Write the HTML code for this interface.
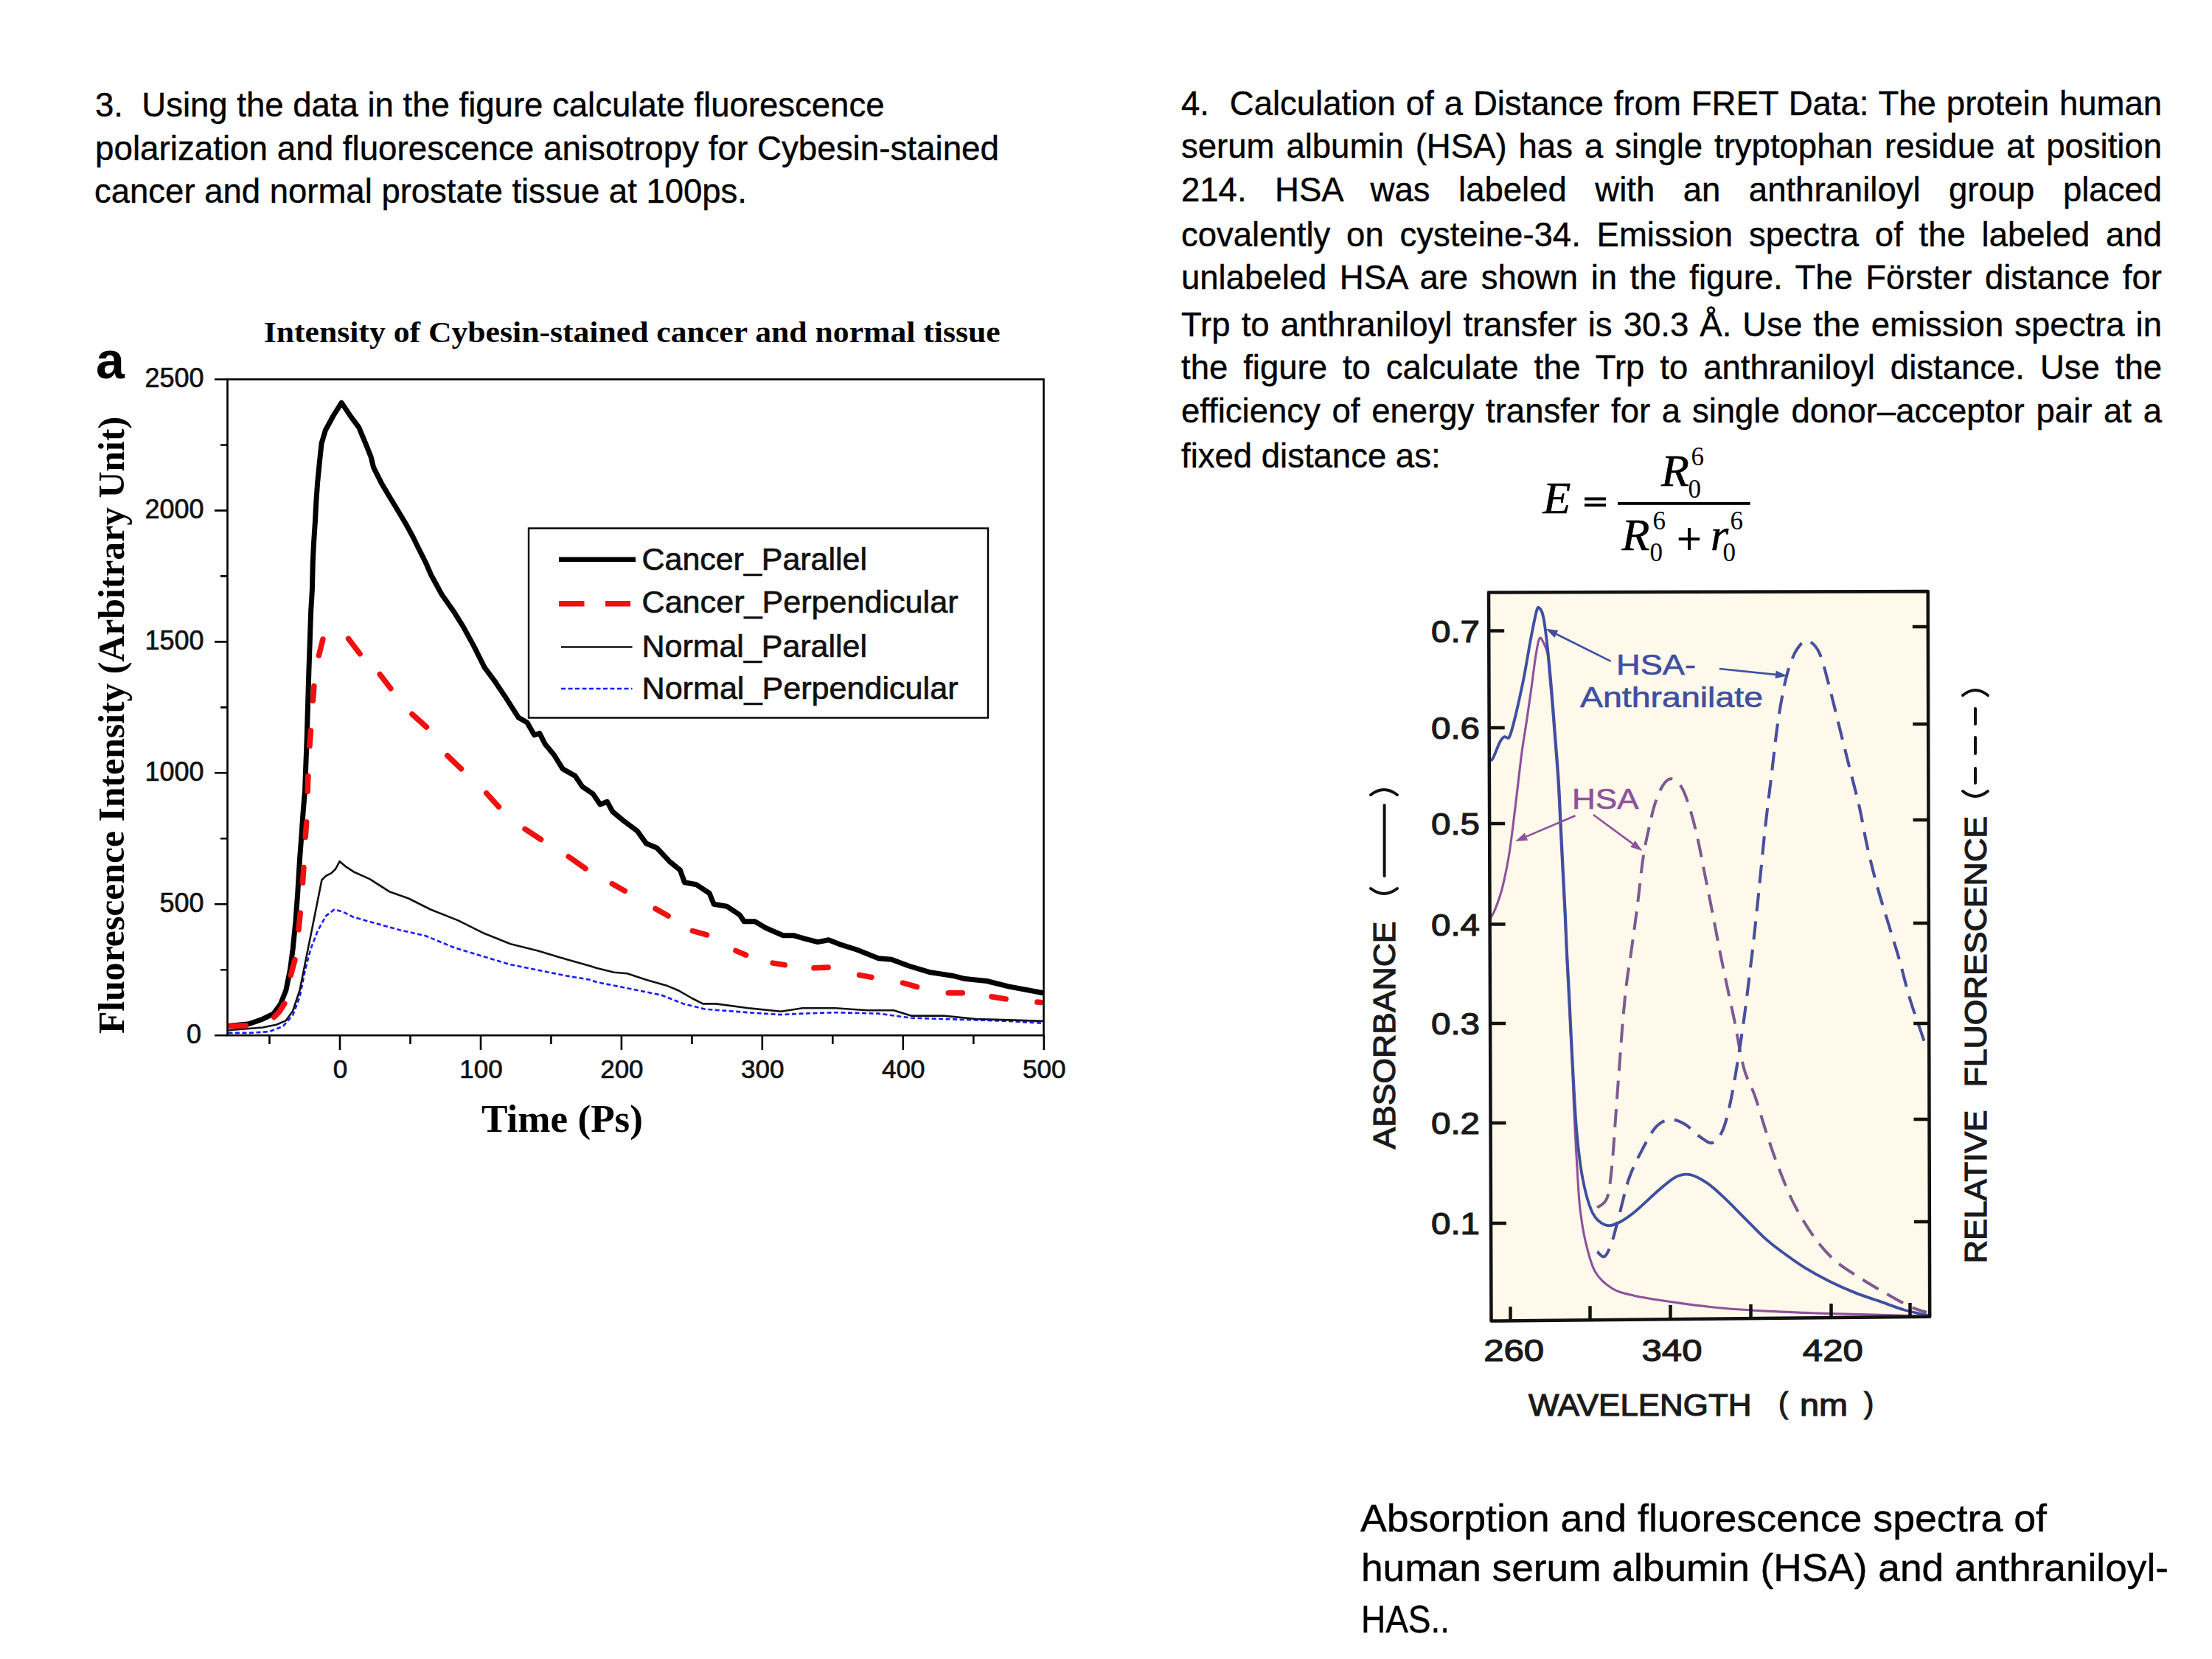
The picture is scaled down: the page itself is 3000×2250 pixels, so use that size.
<!DOCTYPE html>
<html><head><meta charset="utf-8"><title>FRET questions</title>
<style>
html,body{margin:0;padding:0;background:#fff;}
body{width:3000px;height:2250px;overflow:hidden;font-family:"Liberation Sans", sans-serif;}
svg{display:block;}
text{white-space:pre;}
</style></head><body>
<svg width="3000" height="2250" viewBox="0 0 3000 2250">
<rect x="0" y="0" width="3000" height="2250" fill="#fff"/>

<g font-family="'Liberation Sans', sans-serif" font-size="45.5" fill="#000" stroke="#000" stroke-width="0.4">
<text x="129" y="158.0" textLength="1070.5" lengthAdjust="spacingAndGlyphs" xml:space="preserve">3.  Using the data in the figure calculate fluorescence</text>
<text x="129" y="217.0" textLength="1226.0" lengthAdjust="spacingAndGlyphs" xml:space="preserve">polarization and fluorescence anisotropy for Cybesin-stained</text>
<text x="128" y="274.5" textLength="885.0" lengthAdjust="spacingAndGlyphs" xml:space="preserve">cancer and normal prostate tissue at 100ps.</text>
</g>
<g font-family="'Liberation Sans', sans-serif" font-size="45.5" fill="#000" stroke="#000" stroke-width="0.4">
<text x="1602" y="155.8" word-spacing="1.28" xml:space="preserve">4.  Calculation of a Distance from FRET Data: The protein human</text>
<text x="1602" y="213.5" word-spacing="3.34" xml:space="preserve">serum albumin (HSA) has a single tryptophan residue at position</text>
<text x="1602" y="273.0" word-spacing="25.87" xml:space="preserve">214. HSA was labeled with an anthraniloyl group placed</text>
<text x="1602" y="333.8" word-spacing="9.12" xml:space="preserve">covalently on cysteine-34. Emission spectra of the labeled and</text>
<text x="1602" y="392.2" word-spacing="4.85" xml:space="preserve">unlabeled HSA are shown in the figure. The Förster distance for</text>
<text x="1602" y="455.7" word-spacing="2.43" xml:space="preserve">Trp to anthraniloyl transfer is 30.3 Å. Use the emission spectra in</text>
<text x="1602" y="513.7" word-spacing="8.31" xml:space="preserve">the figure to calculate the Trp to anthraniloyl distance. Use the</text>
<text x="1602" y="572.8" word-spacing="3.08" xml:space="preserve">efficiency of energy transfer for a single donor–acceptor pair at a</text>
<text x="1602" y="634.3" xml:space="preserve">fixed distance as:</text>
</g>
<g fill="#000" stroke="#000" stroke-width="0.6">
<text x="2092.5" y="695.7" font-family="'Liberation Serif', serif" font-style="italic" font-size="62">E</text>
<rect x="2149" y="674.5" width="29" height="4" stroke="none"/><rect x="2149" y="683" width="29" height="4" stroke="none"/>
<rect x="2194" y="681" width="179.6" height="3.8" stroke="none"/>
<text x="2253" y="658.9" font-family="'Liberation Serif', serif" font-style="italic" font-size="62">R</text>
<text x="2293.5" y="630.7" font-family="'Liberation Serif', serif" font-size="35" stroke="none">6</text>
<text x="2289.5" y="674.5" font-family="'Liberation Serif', serif" font-size="35" stroke="none">0</text>
<text x="2199.5" y="745.7" font-family="'Liberation Serif', serif" font-style="italic" font-size="62">R</text>
<text x="2241.5" y="717.6" font-family="'Liberation Serif', serif" font-size="35" stroke="none">6</text>
<text x="2237.5" y="761.4" font-family="'Liberation Serif', serif" font-size="35" stroke="none">0</text>
<rect x="2276.7" y="729" width="28.5" height="4" stroke="none"/><rect x="2289" y="716" width="4" height="30" stroke="none"/>
<text x="2320" y="746" font-family="'Liberation Serif', serif" font-style="italic" font-size="62">r</text>
<text x="2346.5" y="717.6" font-family="'Liberation Serif', serif" font-size="35" stroke="none">6</text>
<text x="2336.5" y="761.4" font-family="'Liberation Serif', serif" font-size="35" stroke="none">0</text>
</g>
<g id="leftchart">
<text x="357.7" y="464.2" font-family="'Liberation Serif', serif" font-weight="bold" font-size="41" textLength="999" lengthAdjust="spacingAndGlyphs">Intensity of Cybesin-stained cancer and normal tissue</text>
<text x="130" y="513" font-family="'Liberation Sans', sans-serif" font-weight="bold" font-size="70">a</text>
<text transform="translate(167.5,1402) rotate(-90)" font-family="'Liberation Serif', serif" font-weight="bold" font-size="51" textLength="837" lengthAdjust="spacingAndGlyphs">Fluorescence Intensity (Arbitrary Unit)</text>
<text x="653" y="1534.6" font-family="'Liberation Serif', serif" font-weight="bold" font-size="53.5" textLength="219" lengthAdjust="spacingAndGlyphs">Time (Ps)</text>
<path d="M291,1404.2H308.5 M299,1315.2H308.5 M291,1226.3H308.5 M299,1137.3H308.5 M291,1048.3H308.5 M299,959.4H308.5 M291,870.4H308.5 M299,781.4H308.5 M291,692.4H308.5 M299,603.5H308.5 M291,514.5H308.5 M365.5,1404.2V1416 M461.0,1404.2V1424 M556.5,1404.2V1416 M652.0,1404.2V1424 M747.4,1404.2V1416 M842.9,1404.2V1424 M938.4,1404.2V1416 M1033.8,1404.2V1424 M1129.3,1404.2V1416 M1224.8,1404.2V1424 M1320.3,1404.2V1416 M1415.8,1404.2V1424" stroke="#000" stroke-width="2.6" fill="none"/>
<g font-family="'Liberation Sans', sans-serif" font-size="36" fill="#111" stroke="#111" stroke-width="0.7" text-anchor="end">
<text x="273" y="1414.7">0</text>
<text x="276.5" y="1236.8">500</text>
<text x="276.5" y="1058.8">1000</text>
<text x="276.5" y="880.9">1500</text>
<text x="276.5" y="702.9">2000</text>
<text x="276.5" y="525.0">2500</text>
</g>
<g font-family="'Liberation Sans', sans-serif" font-size="35" fill="#111" stroke="#111" stroke-width="0.7" text-anchor="middle">
<text x="461.5" y="1461.5">0</text>
<text x="652.5" y="1461.5">100</text>
<text x="843.4" y="1461.5">200</text>
<text x="1034.3" y="1461.5">300</text>
<text x="1225.3" y="1461.5">400</text>
<text x="1416.2" y="1461.5">500</text>
</g>
<defs><clipPath id="lc"><rect x="308.5" y="514.5" width="1107" height="890"/></clipPath></defs>
<g clip-path="url(#lc)" fill="none" stroke-linejoin="round">
<polyline points="309.5,1400.9 337.4,1400.9 365.4,1399.1 384.1,1391.6 397.2,1376.6 406.5,1352.3 414.0,1315.0 421.5,1286.9 430.8,1262.6 442.1,1242.1 453.3,1233.6 464.5,1236.4 479.4,1243.9 509.3,1252.2 542.9,1261.5 576.5,1269.0 617.6,1285.8 655.0,1297.0 692.4,1308.2 729.7,1315.7 767.1,1323.2 800.0,1328.8 809.4,1332.0 853.5,1340.8 897.5,1349.7 926.9,1361.4 956.3,1368.7 1015.1,1373.2 1059.2,1376.1 1088.6,1374.6 1132.6,1373.2 1191.4,1374.6 1235.5,1380.5 1279.6,1382.0 1323.6,1383.4 1367.7,1384.9 1415.0,1387.8" stroke="#1a1aff" stroke-width="2.6" stroke-dasharray="6 3.5"/>
<polyline points="309.5,1397.2 356.1,1393.5 374.8,1389.7 387.9,1384.1 397.2,1371.0 406.5,1343.0 414.0,1305.6 421.5,1268.2 429.0,1230.8 436.4,1193.5 442.1,1187.9 449.5,1184.1 455.1,1178.5 460.7,1168.2 468.2,1174.8 479.4,1182.2 501.8,1192.4 528.0,1209.2 554.1,1218.5 584.0,1233.5 621.4,1248.4 655.0,1265.2 692.4,1280.2 729.7,1289.5 767.1,1300.7 800.0,1310.0 809.4,1312.9 832.9,1318.8 850.5,1320.3 877.0,1329.1 903.4,1336.4 921.1,1343.8 938.7,1354.0 953.4,1361.4 971.0,1361.4 1015.1,1367.3 1059.2,1371.7 1088.6,1367.3 1132.6,1367.3 1176.7,1370.2 1212.0,1370.2 1235.5,1377.6 1279.6,1377.6 1323.6,1382.0 1367.7,1383.4 1415.0,1384.9" stroke="#111" stroke-width="2.6"/>
<polyline points="309.5,1391.6 337.4,1388.8 356.1,1382.2 371.0,1374.8 380.4,1361.7 387.9,1343.0 393.5,1315.0 397.2,1286.9 400.9,1249.5 403.7,1212.1 406.5,1165.4 409.3,1128.0 411.2,1100.0 413.5,1073.0 416.2,1001.0 418.9,910.0 421.6,830.0 423.4,800.0 424.3,762.3 425.6,735.2 427.4,708.0 428.8,680.9 430.7,653.8 433.4,626.6 436.1,601.3 441.5,583.2 452.0,564.0 463.2,546.1 475.9,565.1 486.7,579.6 495.8,601.3 503.0,619.4 506.6,633.9 517.5,655.6 528.3,673.7 539.2,691.8 550.0,709.8 560.0,728.0 565.2,738.7 577.3,762.8 584.8,780.0 599.3,806.5 616.2,830.6 628.2,849.9 642.7,876.4 657.2,905.4 671.6,924.7 686.1,946.4 703.0,972.9 715.0,980.1 724.7,997.0 731.9,994.6 739.1,1009.0 751.2,1023.5 763.2,1042.8 780.1,1052.4 789.8,1066.9 804.2,1076.6 813.9,1091.0 823.5,1087.4 830.8,1100.7 845.2,1112.7 864.5,1127.2 876.6,1144.1 891.0,1150.1 907.9,1168.2 922.4,1180.0 928.4,1196.8 944.6,1199.8 962.2,1211.5 968.1,1226.2 985.7,1229.2 1003.3,1240.9 1009.2,1249.7 1023.9,1249.7 1038.6,1258.5 1062.1,1268.8 1076.8,1268.8 1091.5,1273.2 1109.1,1277.6 1123.8,1274.7 1138.5,1280.6 1162.0,1288.0 1191.4,1299.7 1209.0,1301.2 1232.5,1310.0 1261.9,1318.8 1291.3,1323.2 1309.0,1327.6 1338.3,1330.5 1367.7,1337.9 1415.0,1346.7" stroke="#000" stroke-width="7"/>
<path d="M313.2,1391.5 L333.3,1391.1 M371.8,1379.5 L379.0,1372.0 L385.9,1361.1 M394.4,1322.6 L400.0,1301.7 M405.0,1260.8 L407.2,1238.3 M410.5,1197.2 L411.9,1176.6 M414.2,1135.6 L415.7,1114.9 M417.2,1073.2 L417.9,1052.5 M420.0,1011.7 L421.4,991.0 M424.5,950.2 L425.9,930.4 M432.5,888.8 L437.9,867.0 M472.6,866.3 L488.1,886.7 M515.2,914.4 L529.8,933.7 M559.0,968.6 L578.5,986.1 M606.8,1024.8 L625.5,1042.7 M659.7,1075.7 L676.4,1094.3 M712.1,1124.4 L733.6,1138.5 M771.1,1161.8 L794.0,1177.9 M830.2,1198.6 L847.3,1208.3 M889.0,1232.4 L906.1,1242.1 M939.3,1262.5 L958.6,1267.8 M997.9,1289.4 L1011.7,1295.2 M1048.2,1306.1 L1064.3,1308.6 M1104.0,1312.8 L1123.1,1312.1 M1165.6,1322.4 L1181.9,1325.4 M1224.4,1333.0 L1243.6,1338.4 M1286.2,1346.7 L1305.3,1346.7 M1344.9,1351.7 L1364.1,1354.9 M1406.8,1359.1 L1411.3,1359.6" stroke="#f01010" stroke-width="7.5" stroke-linecap="round"/>
</g>
<rect x="308.5" y="514.5" width="1107" height="889.7" fill="none" stroke="#000" stroke-width="2.6"/>
<rect x="717" y="716.5" width="623" height="257" fill="#fff" stroke="#000" stroke-width="2.4"/>
<path d="M758,758.8H862" stroke="#000" stroke-width="6.5"/>
<path d="M758,818.8H792.5M821,818.8H855" stroke="#f01010" stroke-width="7.5"/>
<path d="M761,877.5H857.5" stroke="#111" stroke-width="2.4"/>
<path d="M761,934H857.5" stroke="#1a1aff" stroke-width="2.6" stroke-dasharray="6 3.5"/>
<g font-family="'Liberation Sans', sans-serif" font-size="43" fill="#111" stroke="#111" stroke-width="0.7">
<text x="870.5" y="773.1" textLength="305.5" lengthAdjust="spacingAndGlyphs">Cancer_Parallel</text>
<text x="870.5" y="831.3" textLength="429" lengthAdjust="spacingAndGlyphs">Cancer_Perpendicular</text>
<text x="870.5" y="891" textLength="305.5" lengthAdjust="spacingAndGlyphs">Normal_Parallel</text>
<text x="870.5" y="947.6" textLength="429" lengthAdjust="spacingAndGlyphs">Normal_Perpendicular</text>
</g>
</g>
<g id="rightchart">
<polygon points="2019,803.5 2614.7,802 2617.2,1785.7 2022.5,1791.5" fill="#fff9eb"/>
<defs><clipPath id="rc"><polygon points="2019,803.5 2614.7,802 2617.2,1785.7 2022.5,1791.5"/></clipPath></defs>
<g clip-path="url(#rc)" fill="none" stroke-linejoin="round" stroke-linecap="round">
<path d="M2166.3,1637.8C2168.5,1635.6 2176.3,1634.0 2179.6,1624.6C2182.9,1615.2 2184.3,1599.7 2186.2,1581.5C2188.1,1563.3 2189.5,1537.3 2191.2,1515.2C2192.8,1493.1 2194.4,1471.0 2196.1,1448.9C2197.8,1426.8 2199.4,1401.9 2201.1,1382.6C2202.8,1363.3 2204.2,1348.3 2206.1,1332.9C2208.0,1317.5 2210.0,1307.2 2212.4,1290.0C2214.8,1272.8 2217.8,1251.1 2220.5,1229.8C2223.2,1208.5 2226.0,1180.1 2228.7,1162.0C2231.4,1143.9 2234.1,1133.5 2236.8,1121.3C2239.5,1109.1 2241.8,1098.2 2245.0,1088.7C2248.2,1079.2 2252.2,1069.7 2255.8,1064.3C2259.4,1058.9 2262.6,1055.8 2266.7,1056.2C2270.8,1056.7 2276.1,1060.7 2280.2,1067.0C2284.3,1073.3 2287.5,1082.9 2291.1,1094.2C2294.7,1105.5 2298.3,1119.1 2301.9,1134.9C2305.5,1150.7 2309.2,1171.0 2312.8,1189.1C2316.4,1207.2 2320.0,1224.9 2323.6,1243.4C2327.2,1261.9 2330.9,1282.2 2334.5,1300.0C2338.1,1317.8 2342.1,1336.2 2345.0,1350.0C2347.9,1363.8 2348.6,1366.1 2352.0,1382.6C2355.4,1399.1 2360.5,1431.6 2365.2,1448.9C2369.9,1466.2 2374.7,1471.0 2380.0,1486.2C2385.3,1501.4 2391.3,1523.3 2396.9,1540.2C2402.5,1557.1 2407.5,1571.8 2413.7,1587.5C2419.9,1603.2 2426.1,1619.5 2434.0,1634.7C2441.9,1649.9 2452.0,1666.2 2461.0,1678.6C2470.0,1691.0 2477.9,1700.0 2488.0,1709.0C2498.1,1718.0 2510.4,1725.3 2521.7,1732.6C2532.9,1739.9 2544.2,1746.4 2555.5,1752.9C2566.8,1759.4 2579.6,1766.9 2589.2,1771.4C2598.8,1775.9 2609.0,1778.6 2613.0,1780.0" stroke="#7e5a92" stroke-width="4" stroke-dasharray="25 13.5" stroke-linecap="butt"/>
<path d="M2166.3,1697.5C2168.0,1698.6 2172.9,1706.3 2176.2,1704.1C2179.5,1701.9 2182.9,1693.7 2186.2,1684.3C2189.5,1674.9 2192.2,1662.2 2196.1,1647.8C2200.0,1633.4 2204.4,1612.4 2209.4,1598.0C2214.4,1583.6 2219.9,1573.2 2226.0,1561.6C2232.1,1550.0 2239.3,1535.6 2245.9,1528.4C2252.5,1521.2 2259.1,1519.0 2265.7,1518.5C2272.3,1518.0 2279.0,1521.2 2285.6,1525.1C2292.2,1529.0 2299.4,1537.5 2305.5,1541.7C2311.6,1545.9 2317.1,1551.1 2322.1,1550.0C2327.1,1548.9 2331.5,1543.1 2335.4,1535.1C2339.3,1527.1 2342.0,1516.3 2345.3,1501.9C2348.6,1487.5 2351.9,1468.8 2355.2,1448.9C2358.5,1429.0 2362.1,1404.7 2365.2,1382.6C2368.2,1360.5 2371.2,1335.1 2373.5,1316.3C2375.8,1297.5 2376.9,1288.9 2379.0,1270.0C2381.1,1251.1 2383.5,1227.5 2386.0,1202.7C2388.5,1177.9 2391.5,1146.2 2394.2,1121.3C2396.9,1096.4 2399.6,1076.1 2402.3,1053.5C2405.0,1030.9 2407.7,1005.1 2410.4,985.6C2413.1,966.1 2415.9,950.3 2418.6,936.8C2421.3,923.2 2423.5,913.8 2426.7,904.3C2429.9,894.8 2433.5,885.7 2437.6,879.8C2441.7,873.9 2446.1,868.1 2451.1,869.0C2456.1,869.9 2462.4,874.9 2467.4,885.3C2472.4,895.7 2476.5,914.7 2481.0,931.4C2485.5,948.1 2490.0,967.5 2494.5,985.6C2499.0,1003.7 2503.6,1021.8 2508.1,1039.9C2512.6,1058.0 2517.6,1076.1 2521.7,1094.2C2525.8,1112.3 2528.4,1130.3 2532.5,1148.4C2536.6,1166.5 2541.1,1184.6 2546.1,1202.7C2551.1,1220.8 2557.5,1240.6 2562.4,1256.9C2567.3,1273.2 2571.2,1284.9 2575.7,1300.6C2580.2,1316.3 2584.7,1336.0 2589.2,1351.2C2593.7,1366.4 2598.7,1379.9 2602.7,1391.7C2606.7,1403.5 2611.3,1417.0 2613.0,1422.0" stroke="#4a4f9c" stroke-width="4.1" stroke-dasharray="25 13.5" stroke-linecap="butt"/>
<path d="M2021.0,1246.3C2022.2,1244.0 2025.3,1239.6 2028.0,1232.8C2030.7,1226.0 2034.1,1217.3 2037.1,1205.7C2040.1,1194.1 2043.5,1177.3 2046.0,1163.0C2048.5,1148.7 2050.0,1135.5 2052.0,1120.0C2054.0,1104.5 2056.0,1086.7 2058.0,1070.0C2060.0,1053.3 2062.0,1034.8 2064.0,1020.0C2066.0,1005.2 2068.0,994.3 2070.0,981.0C2072.0,967.7 2074.0,954.3 2076.0,940.0C2078.0,925.7 2080.3,906.3 2082.0,895.0C2083.7,883.7 2084.9,877.0 2086.0,872.0C2087.1,867.0 2087.7,866.0 2088.6,865.3C2089.5,864.6 2089.8,864.7 2091.5,868.0C2093.2,871.3 2096.9,878.0 2098.5,885.0C2100.1,892.0 2100.0,899.2 2101.0,910.0C2102.0,920.8 2103.3,935.0 2104.6,950.0C2105.8,965.0 2107.1,981.7 2108.5,1000.0C2109.9,1018.3 2111.8,1040.0 2113.0,1060.0C2114.2,1080.0 2115.0,1100.0 2116.0,1120.0C2117.0,1140.0 2118.0,1160.0 2119.0,1180.0C2120.0,1200.0 2121.1,1220.0 2122.1,1240.0C2123.1,1260.0 2123.8,1280.0 2124.8,1300.0C2125.8,1320.0 2126.9,1340.0 2127.9,1360.0C2128.9,1380.0 2130.1,1403.3 2130.9,1420.0C2131.8,1436.7 2132.4,1446.7 2133.0,1460.0C2133.6,1473.3 2133.8,1485.0 2134.5,1500.0C2135.2,1515.0 2136.1,1533.7 2137.0,1550.0C2137.9,1566.3 2138.8,1583.0 2139.8,1598.0C2140.8,1613.0 2141.3,1626.2 2143.0,1640.0C2144.7,1653.8 2146.4,1667.0 2149.7,1681.0C2153.0,1695.0 2156.9,1713.0 2163.0,1724.0C2169.1,1735.0 2177.4,1741.7 2186.2,1747.2C2195.0,1752.7 2202.8,1754.2 2216.0,1757.2C2229.2,1760.2 2246.4,1762.7 2265.7,1765.5C2285.0,1768.3 2309.6,1771.6 2332.0,1773.8C2354.4,1776.0 2375.1,1777.1 2400.0,1778.4C2424.9,1779.7 2445.5,1780.4 2481.2,1781.5C2516.9,1782.6 2591.9,1784.4 2614.0,1785.0" stroke="#8e529c" stroke-width="3.1"/>
<path d="M2021.0,1031.0C2021.7,1030.5 2022.8,1032.0 2025.0,1028.0C2027.2,1024.0 2031.5,1011.7 2034.0,1006.9C2036.5,1002.1 2038.1,1000.3 2040.1,999.3C2042.1,998.3 2044.3,1002.5 2046.1,1000.8C2047.9,999.0 2048.7,995.8 2050.7,988.8C2052.7,981.8 2055.4,970.8 2058.2,958.7C2060.9,946.7 2064.2,932.1 2067.2,916.5C2070.2,900.9 2073.5,879.8 2076.3,865.3C2079.1,850.8 2081.9,836.0 2083.8,829.2C2085.7,822.4 2086.2,823.6 2087.7,824.6C2089.2,825.6 2091.2,828.4 2092.8,835.2C2094.4,842.0 2095.5,850.2 2097.3,865.3C2099.1,880.3 2101.4,902.9 2103.4,925.5C2105.4,948.1 2107.7,978.2 2109.4,1000.8C2111.2,1023.4 2112.7,1041.0 2113.9,1061.1C2115.2,1081.2 2115.9,1101.2 2116.9,1121.3C2117.9,1141.4 2118.9,1161.5 2119.9,1181.6C2120.9,1201.7 2122.2,1223.8 2123.0,1241.8C2123.8,1259.8 2124.1,1271.8 2125.0,1289.7C2125.9,1307.6 2126.8,1322.9 2128.2,1349.4C2129.5,1375.9 2131.4,1418.5 2133.1,1448.9C2134.8,1479.3 2135.9,1507.0 2138.1,1531.8C2140.3,1556.6 2142.8,1579.2 2146.4,1598.0C2150.0,1616.8 2154.7,1634.0 2159.7,1644.5C2164.7,1655.0 2170.7,1658.5 2176.2,1661.0C2181.7,1663.5 2186.2,1662.2 2192.8,1659.4C2199.4,1656.7 2206.6,1652.0 2216.0,1644.5C2225.4,1637.0 2239.8,1622.6 2249.2,1614.6C2258.6,1606.6 2265.2,1600.0 2272.4,1596.4C2279.6,1592.8 2285.1,1591.7 2292.3,1593.1C2299.5,1594.5 2307.8,1599.5 2315.5,1604.7C2323.2,1610.0 2330.4,1616.9 2338.7,1624.6C2347.0,1632.3 2356.4,1642.3 2365.2,1651.1C2374.0,1659.9 2383.6,1670.2 2391.7,1677.6C2399.8,1685.0 2404.4,1688.6 2413.7,1695.5C2423.0,1702.4 2436.2,1712.1 2447.5,1719.1C2458.8,1726.1 2469.9,1732.1 2481.2,1737.7C2492.4,1743.3 2503.8,1748.4 2515.0,1752.9C2526.2,1757.4 2537.4,1760.8 2548.7,1764.7C2559.9,1768.6 2571.6,1773.3 2582.5,1776.5C2593.4,1779.7 2608.8,1782.8 2614.0,1784.0" stroke="#3f4fa0" stroke-width="3.9"/>
</g>
<polygon points="2019,803.5 2614.7,802 2617.2,1785.7 2022.5,1791.5" fill="none" stroke="#111" stroke-width="4.5" stroke-linejoin="round"/>
<path d="M2019.2,855.5h21 M2019.7,987h21 M2020.1,1117h21 M2020.6,1253.5h21 M2021.1,1388h21 M2021.5,1523h21 M2022.0,1659h21 M2614.8,850h-21 M2615.2,982h-21 M2615.5,1112h-21 M2615.8,1252h-21 M2616.2,1388h-21 M2616.5,1518h-21 M2616.9,1657h-21 M2048.5,1791.2v-19 M2156.5,1790.2v-19 M2265.5,1789.1v-19 M2374.5,1788.1v-19 M2483.5,1787.0v-19 M2590.5,1786.0v-19" stroke="#111" stroke-width="4.5" fill="none"/>
<g font-family="'Liberation Sans', sans-serif" font-size="42" fill="#1a1a1a" stroke="#1a1a1a" stroke-width="1.2">
<text x="1941" y="870.5" textLength="66" lengthAdjust="spacingAndGlyphs">0.7</text>
<text x="1941" y="1002.0" textLength="66" lengthAdjust="spacingAndGlyphs">0.6</text>
<text x="1941" y="1132.0" textLength="66" lengthAdjust="spacingAndGlyphs">0.5</text>
<text x="1941" y="1268.5" textLength="66" lengthAdjust="spacingAndGlyphs">0.4</text>
<text x="1941" y="1403.0" textLength="66" lengthAdjust="spacingAndGlyphs">0.3</text>
<text x="1941" y="1538.0" textLength="66" lengthAdjust="spacingAndGlyphs">0.2</text>
<text x="1941" y="1674.0" textLength="66" lengthAdjust="spacingAndGlyphs">0.1</text>
<text x="2012.2" y="1846.4" textLength="82" lengthAdjust="spacingAndGlyphs">260</text>
<text x="2226.5" y="1846.4" textLength="82" lengthAdjust="spacingAndGlyphs">340</text>
<text x="2444.8" y="1846.4" textLength="82" lengthAdjust="spacingAndGlyphs">420</text>
<text x="2073" y="1919.7" textLength="302.5" lengthAdjust="spacingAndGlyphs">WAVELENGTH</text>
<text x="2412" y="1917" font-size="40">(</text>
<text x="2441" y="1919.7" textLength="65" lengthAdjust="spacingAndGlyphs">nm</text>
<text x="2528" y="1917" font-size="40">)</text>
<text transform="translate(1891.5,1558.5) rotate(-90)" textLength="309" lengthAdjust="spacingAndGlyphs">ABSORBANCE</text>
<text transform="translate(2693.5,1713.5) rotate(-90)" textLength="208" lengthAdjust="spacingAndGlyphs">RELATIVE</text>
<text transform="translate(2693.5,1474.6) rotate(-90)" textLength="367.6" lengthAdjust="spacingAndGlyphs">FLUORESCENCE</text>
</g>
<g fill="none" stroke="#111" stroke-width="4" stroke-linecap="round">
<path d="M1859,1078 Q1877,1064 1895,1078"/>
<path d="M1877.6,1092V1188"/>
<path d="M1859,1205 Q1877,1219 1895,1205"/>
<path d="M2662,943 Q2679,929 2696,943"/>
<path d="M2679,961V982M2679,1000V1022M2679,1042V1062"/>
<path d="M2662,1073 Q2679,1087 2696,1073"/>
</g>
<g font-family="'Liberation Sans', sans-serif" font-size="38" stroke-width="0.6">
<text x="2192" y="915" fill="#3f4fa0" stroke="#3f4fa0" textLength="108" lengthAdjust="spacingAndGlyphs">HSA-</text>
<text x="2143" y="958.5" fill="#3f4fa0" stroke="#3f4fa0" textLength="248" lengthAdjust="spacingAndGlyphs">Anthranilate</text>
<text x="2132" y="1096.9" fill="#8e529c" stroke="#8e529c" textLength="90.5" lengthAdjust="spacingAndGlyphs">HSA</text>
</g>
<path d="M2184.7,896.9L2110.8,860.0" stroke="#3f4fa0" stroke-width="2.6" fill="none"/><polygon points="2096.5,852.8 2113.3,855.0 2108.4,864.9" fill="#3f4fa0"/>
<path d="M2331.8,907.0L2408.1,914.9" stroke="#3f4fa0" stroke-width="2.6" fill="none"/><polygon points="2424.0,916.5 2407.5,920.3 2408.6,909.4" fill="#3f4fa0"/>
<path d="M2136.5,1106.3L2069.9,1134.6" stroke="#8e529c" stroke-width="2.6" fill="none"/><polygon points="2055.2,1140.9 2067.8,1129.6 2072.1,1139.7" fill="#8e529c"/>
<path d="M2160.9,1105.0L2214.4,1144.4" stroke="#8e529c" stroke-width="2.6" fill="none"/><polygon points="2227.3,1153.9 2211.2,1148.8 2217.7,1140.0" fill="#8e529c"/>
</g>
<g font-family="'Liberation Sans', sans-serif" font-size="52" fill="#000" stroke="#000" stroke-width="0.4">
<text x="1845" y="2076.7" textLength="931" lengthAdjust="spacingAndGlyphs">Absorption and fluorescence spectra of</text>
<text x="1846" y="2143.7" textLength="1095" lengthAdjust="spacingAndGlyphs">human serum albumin (HSA) and anthraniloyl-</text>
<text x="1846" y="2213.7" textLength="120" lengthAdjust="spacingAndGlyphs">HAS..</text>
</g>
</svg></body></html>
